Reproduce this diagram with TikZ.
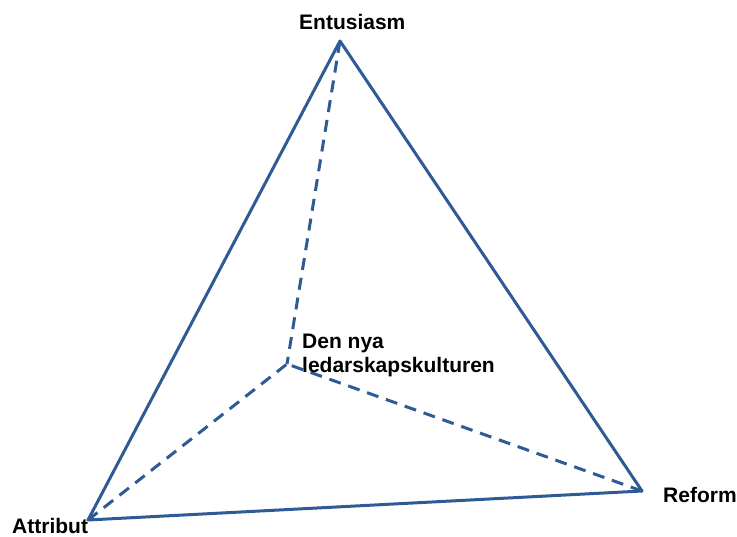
\documentclass[tikz,border=0pt]{standalone}
\usepackage{fontspec}
\setmainfont{Liberation Sans}
\begin{document}
\begin{tikzpicture}[x=1pt,y=-1pt,
  edge/.style={draw=lineblue,line width=3pt,line join=round,line cap=round},
  inner/.style={draw=lineblue,line width=3pt,dash pattern=on 12pt off 8pt},
  lbl/.style={font=\fontsize{21}{24}\selectfont\bfseries,inner sep=0pt,anchor=base west,align=left}]
\definecolor{lineblue}{RGB}{46,90,150}
\useasboundingbox (0,0) rectangle (737,537);
\coordinate (A) at (340,41);
\coordinate (L) at (88,520);
\coordinate (R) at (642,491);
\coordinate (C) at (287,364);
\draw[edge] (A) -- (R) -- (L) -- cycle;
\draw[inner] (A) -- (C);
\draw[inner] (L) -- (C);
\draw[inner] (R) -- (C);
\node[lbl] (tA) at (299,30) {Entusiasm};
\node[lbl] (tL) at (12,533) {Attribut};
\node[lbl] (tR) at (663,502) {Reform};
\node[lbl] (tC) at (302,373) {Den nya\\ledarskapskulturen};
\end{tikzpicture}
\end{document}
